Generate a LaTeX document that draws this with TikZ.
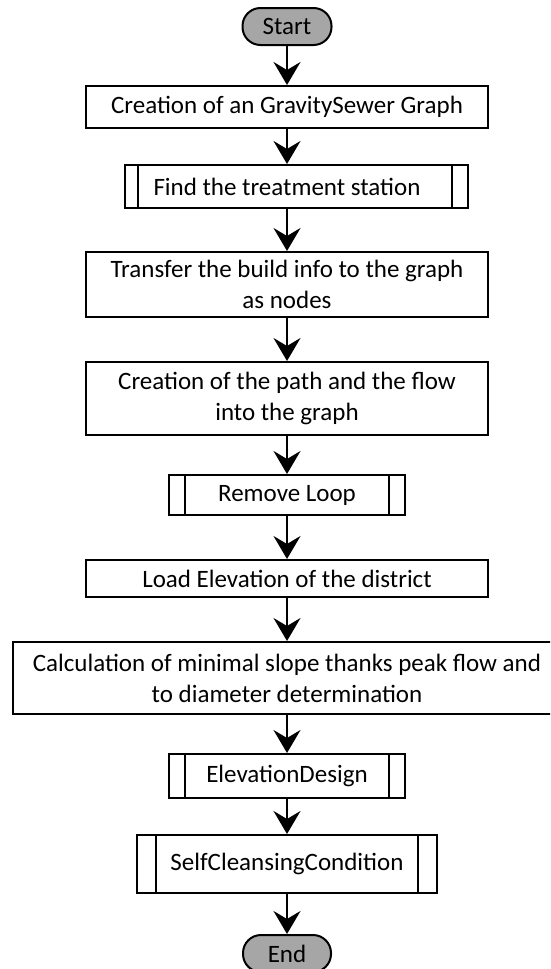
\documentclass[tikz,border=0pt]{standalone}
\usepackage{fontspec}
\setmainfont{Carlito}
\usetikzlibrary{arrows.meta}
\definecolor{termgray}{HTML}{A6A6A6}

\begin{document}
\begin{tikzpicture}[x=1pt,y=-1pt,
 box/.style={draw=black,align=center,inner sep=0pt,minimum width=402pt,font=\fontsize{25}{31}\selectfont},
 term/.style={box,fill=termgray,rounded corners=18pt,minimum width=89pt,minimum height=37pt},
 >={Stealth[length=23pt,width=27pt,inset=8pt]},line width=2pt]
\useasboundingbox (0,0) rectangle (550,969);
\clip (0,0) rectangle (550,969);
\node[term] (start) at (287,26.5) {Start};
\node[box,minimum height=42pt] (graph) at (287,107) {Creation of an GravitySewer Graph};
\node[box,minimum width=343pt,minimum height=43pt] (station) at (296.5,186.5) {Find the treatment station\hspace*{19pt}};
\node[box,minimum height=65pt] (transfer) at (287,284.5) {Transfer the build info to the graph\\as nodes};
\node[box,minimum height=73pt] (path) at (287,398.5) {Creation of the path and the flow\\into the graph};
\node[box,minimum width=236pt,minimum height=40pt] (loop) at (287,495) {Remove Loop};
\node[box,minimum height=37pt] (elevation) at (287,578.5) {Load Elevation of the district};
\node[box,minimum width=549pt,minimum height=72pt] (slope) at (287,678) {Calculation of minimal slope thanks peak flow and\\to diameter determination};
\node[box,minimum width=236pt,minimum height=44pt] (design) at (287,776) {ElevationDesign};
\node[box,minimum width=300pt,minimum height=58pt] (cleansing) at (287,864) {SelfCleansingCondition};
\node[term,minimum width=88pt] (stop) at (287,953.5) {End};
% subprocess bars
\draw ([xshift=14pt]station.north west) -- ([xshift=14pt]station.south west);
\draw ([xshift=-17pt]station.north east) -- ([xshift=-17pt]station.south east);
\draw ([xshift=17pt]loop.north west) -- ([xshift=17pt]loop.south west);
\draw ([xshift=-17pt]loop.north east) -- ([xshift=-17pt]loop.south east);
\draw ([xshift=17pt]design.north west) -- ([xshift=17pt]design.south west);
\draw ([xshift=-17pt]design.north east) -- ([xshift=-17pt]design.south east);
\draw ([xshift=20pt]cleansing.north west) -- ([xshift=20pt]cleansing.south west);
\draw ([xshift=-20pt]cleansing.north east) -- ([xshift=-20pt]cleansing.south east);
% flow
\draw[->] (start) -- (graph);
\draw[->] (graph.south) -- (graph.south |- station.north);
\draw[->] (station.south -| graph) -- (transfer);
\draw[->] (transfer) -- (path);
\draw[->] (path) -- (loop);
\draw[->] (loop) -- (elevation);
\draw[->] (elevation) -- (slope);
\draw[->] (slope) -- (design);
\draw[->] (design) -- (cleansing);
\draw[->] (cleansing) -- (stop);
\end{tikzpicture}
\end{document}
